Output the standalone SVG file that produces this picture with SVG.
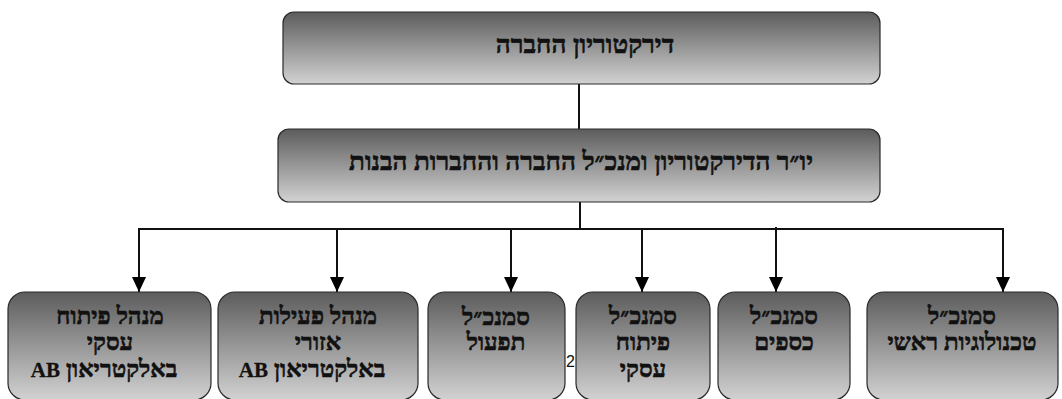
<svg xmlns="http://www.w3.org/2000/svg" width="1062" height="399" viewBox="0 0 1062 399">
<style>
.box{fill:url(#g);stroke:#2a2a2a;stroke-width:1.2}
.t{font-family:"Liberation Serif","DejaVu Sans",serif;font-weight:bold;font-size:24px;fill:#111;stroke:#111;stroke-width:0.6;text-anchor:middle;direction:rtl}
.big{font-size:26px}
.ab{font-size:21px;stroke-width:0.3}
.ln{stroke:#111;stroke-width:2;fill:none}
.pg{font-family:"Liberation Sans",Arial,sans-serif;font-size:16px;fill:#111}
</style>
<defs>
<linearGradient id="g" x1="0" y1="0" x2="0" y2="1">
<stop offset="0" stop-color="#5c5c5c"/>
<stop offset="1" stop-color="#d2d2d2"/>
</linearGradient>
<marker id="ah" markerWidth="15" markerHeight="14" refX="15" refY="7" orient="auto" markerUnits="userSpaceOnUse" viewBox="0 0 15 14">
<path d="M0,0 L15,7 L0,14 Z" fill="#000"/>
</marker>
</defs>
<g id="connectors">
<line class="ln" x1="579" y1="84" x2="579" y2="129" stroke-width="1.5"/>
<line class="ln" x1="580" y1="201" x2="580" y2="229" stroke-width="1.5"/>
<line class="ln" x1="138" y1="229" x2="1004" y2="229"/>
<line class="ln" x1="139" y1="229" x2="139" y2="292" marker-end="url(#ah)"/>
<line class="ln" x1="337" y1="229" x2="337" y2="292" marker-end="url(#ah)"/>
<line class="ln" x1="511" y1="229" x2="511" y2="292" marker-end="url(#ah)"/>
<line class="ln" x1="642" y1="229" x2="642" y2="292" marker-end="url(#ah)"/>
<line class="ln" x1="776" y1="227" x2="776" y2="292" marker-end="url(#ah)"/>
<line class="ln" x1="1003" y1="228" x2="1003" y2="292" marker-end="url(#ah)"/>
</g>
<g id="board">
<rect class="box" x="283" y="12" width="597" height="72" rx="11"/>
<text class="t big" x="585" y="53">דירקטוריון החברה</text>
</g>
<g id="ceo">
<rect class="box" x="278" y="129" width="602" height="73" rx="11"/>
<text class="t big" x="581" y="170">יו״ר הדירקטוריון ומנכ״ל החברה והחברות הבנות</text>
</g>
<g id="n1">
<rect class="box" x="8" y="292" width="203" height="108" rx="17"/>
<text class="t" x="110" y="324">מנהל פיתוח</text>
<text class="t" x="110" y="350">עסקי</text>
<text class="t" x="104" y="377">באלקטריאון <tspan class="ab">AB</tspan></text>
</g>
<g id="n2">
<rect class="box" x="218" y="292" width="200" height="108" rx="17"/>
<text class="t" x="318" y="324">מנהל פעילות</text>
<text class="t" x="318" y="350">אזורי</text>
<text class="t" x="312" y="377">באלקטריאון <tspan class="ab">AB</tspan></text>
</g>
<g id="n3">
<rect class="box" x="428" y="292" width="137" height="108" rx="17"/>
<text class="t" x="496" y="325">סמנכ״ל</text>
<text class="t" x="496" y="350">תפעול</text>
</g>
<text class="pg" x="566" y="367">2</text>
<g id="n4">
<rect class="box" x="576" y="292" width="134" height="108" rx="17"/>
<text class="t" x="643" y="324">סמנכ״ל</text>
<text class="t" x="643" y="350">פיתוח</text>
<text class="t" x="643" y="377">עסקי</text>
</g>
<g id="n5">
<rect class="box" x="718" y="292" width="132" height="108" rx="17"/>
<text class="t" x="784" y="324">סמנכ״ל</text>
<text class="t" x="784" y="350">כספים</text>
</g>
<g id="n6">
<rect class="box" x="867" y="292" width="191" height="108" rx="17"/>
<text class="t" x="962" y="324">סמנכ״ל</text>
<text class="t" x="962" y="350">טכנולוגיות ראשי</text>
</g>
</svg>
